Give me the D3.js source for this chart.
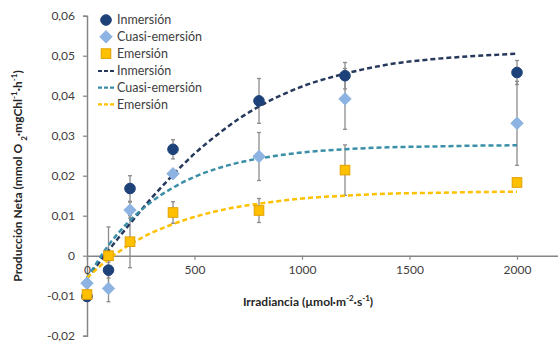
<!DOCTYPE html>
<html>
<head>
<meta charset="utf-8">
<script src="https://cdn.jsdelivr.net/npm/d3@7"></script>
<style>
  html, body { margin: 0; padding: 0; background: #fff; }
  svg { display: block; font-family: Lato, "Open Sans", sans-serif; }
</style>
</head>
<body>
<svg id="chart" width="558" height="345"></svg>
<script>
// Irradiance levels (µmol·m-2·s-1)
const irradiance = [0, 100, 200, 400, 800, 1200, 2000];

// Measured net production (mmol O2·mgChl-1·h-1) and standard errors
const inmersion      = [-0.0102, -0.0036, 0.0168, 0.0266, 0.0387, 0.0450, 0.0458];
const inmersionErr   = [0.0010, 0.0020, 0.0032, 0.0024, 0.0056, 0.0033, 0.0030];
const cuasi          = [-0.0069, -0.0082, 0.0114, 0.0205, 0.0248, 0.0392, 0.0331];
const cuasiErr       = [0.0010, 0.0033, 0.0020, 0.0010, 0.0060, 0.0076, 0.0105];
const emersion       = [-0.0097, 0.0000, 0.0035, 0.0108, 0.0113, 0.0214, 0.0183];
const emersionErr    = [0.0010, 0.0072, 0.0065, 0.0027, 0.0030, 0.0063, 0.0010];

// Fitted P-I curves, sampled along irradiance
const fitIrradiance  = [0, 100, 200, 300, 400, 500, 600, 700, 800, 1000, 1200, 1400, 1600, 1800, 2000];
const fitInmersion   = [-0.0057, 0.0013, 0.0080, 0.0144, 0.0202, 0.0255, 0.0300, 0.0340, 0.0373, 0.0423, 0.0455, 0.0478, 0.0491, 0.0499, 0.0505];
const fitCuasi       = [-0.0057, 0.0026, 0.0088, 0.0135, 0.0170, 0.0197, 0.0217, 0.0232, 0.0243, 0.0258, 0.0266, 0.0271, 0.0273, 0.0275, 0.0276];
const fitEmersion    = [-0.0055, -0.0009, 0.0028, 0.0057, 0.0079, 0.0097, 0.0111, 0.0122, 0.0130, 0.0143, 0.0150, 0.0155, 0.0157, 0.0159, 0.0160];

// Axis ticks
const xTicks = [0, 500, 1000, 1500, 2000];
const xTickLabels = ["0", "500", "1000", "1500", "2000"];
const yTicks = [-0.02, -0.01, 0, 0.01, 0.02, 0.03, 0.04, 0.05, 0.06];
const yTickLabels = ["-0,02", "-0,01", "0", "0,01", "0,02", "0,03", "0,04", "0,05", "0,06"];

const svg = d3.select("#chart");

const x = d3.scaleLinear().domain([0, 2200]).range([87, 560]);
const y = d3.scaleLinear().domain([-0.02, 0.06]).range([335.7, 15.7]);

const axisColor = "#868686";
const textColor = "#404040";

// Y axis (at x = 0)
const yAxis = svg.append("g")
  .attr("transform", `translate(${x(0)},0)`)
  .call(d3.axisLeft(y).tickValues(yTicks).tickSize(4).tickPadding(8)
        .tickFormat((d, i) => yTickLabels[i]));
yAxis.select(".domain").attr("stroke", axisColor).attr("stroke-width", 1.5);
yAxis.selectAll(".tick line").attr("stroke", axisColor).attr("stroke-width", 1.2);
yAxis.selectAll(".tick text").attr("fill", textColor).attr("font-size", 12)
  .attr("font-family", "Lato, sans-serif");

// X axis (at y = 0)
const xAxis = svg.append("g")
  .attr("transform", `translate(0,${y(0)})`)
  .call(d3.axisBottom(x).tickValues(xTicks).tickSize(4).tickSizeOuter(0).tickPadding(6)
        .tickFormat((d, i) => xTickLabels[i]));
xAxis.select(".domain").attr("stroke", axisColor).attr("stroke-width", 1.5);
xAxis.selectAll(".tick line").attr("stroke", axisColor).attr("stroke-width", 1.2);
xAxis.selectAll(".tick text").attr("fill", textColor).attr("font-size", 12)
  .attr("font-family", "Lato, sans-serif");

// Axis titles
const xt = svg.append("text")
  .attr("x", 308).attr("y", 306)
  .attr("text-anchor", "middle")
  .attr("font-size", 12).attr("font-weight", "bold").attr("fill", "#262626");
xt.append("tspan").text("Irradiancia (µmol·m");
xt.append("tspan").attr("baseline-shift", "super").attr("font-size", 8).text("-2");
xt.append("tspan").text("·s");
xt.append("tspan").attr("baseline-shift", "super").attr("font-size", 8).text("-1");
xt.append("tspan").text(")");

const yt = svg.append("text")
  .attr("transform", "translate(22,176) rotate(-90)")
  .attr("text-anchor", "middle")
  .attr("font-size", 12).attr("font-weight", "bold").attr("fill", "#262626");
yt.append("tspan").text("Producción Neta  (mmol O ");
yt.append("tspan").attr("baseline-shift", "sub").attr("font-size", 8).text("2");
yt.append("tspan").text("·mgChl");
yt.append("tspan").attr("baseline-shift", "super").attr("font-size", 8).text("-1");
yt.append("tspan").text("·h");
yt.append("tspan").attr("baseline-shift", "super").attr("font-size", 8).text("-1");
yt.append("tspan").text(")");

// Series styles
const series = [
  { name: "Inmersión", vals: inmersion, err: inmersionErr, fit: fitInmersion,
    fill: "#1d4179", stroke: "#1d4179", line: "#26395c", shape: "circle" },
  { name: "Cuasi-emersión", vals: cuasi, err: cuasiErr, fit: fitCuasi,
    fill: "#8db3e2", stroke: "#8db3e2", line: "#3b8ea8", shape: "diamond" },
  { name: "Emersión", vals: emersion, err: emersionErr, fit: fitEmersion,
    fill: "#ffc000", stroke: "#e0a000", line: "#ffc000", shape: "square" }
];

// Error bars
const errG = svg.append("g").attr("stroke", "#8c8c8c").attr("stroke-width", 1.3);
series.forEach(s => {
  irradiance.forEach((xi, i) => {
    const cx = x(xi), y1 = y(s.vals[i] + s.err[i]), y2 = y(s.vals[i] - s.err[i]);
    errG.append("line").attr("x1", cx).attr("x2", cx).attr("y1", y1).attr("y2", y2);
    errG.append("line").attr("x1", cx - 2).attr("x2", cx + 2).attr("y1", y1).attr("y2", y1);
    errG.append("line").attr("x1", cx - 2).attr("x2", cx + 2).attr("y1", y2).attr("y2", y2);
  });
});

// Fitted curves
const line = d3.line().x((d, i) => x(fitIrradiance[i])).y(d => y(d)).curve(d3.curveMonotoneX);
series.forEach(s => {
  svg.append("path").datum(s.fit)
    .attr("d", line)
    .attr("fill", "none")
    .attr("stroke", s.line)
    .attr("stroke-width", 2.5)
    .attr("stroke-dasharray", "5,3");
});

// Markers
function marker(g, shape, cx, cy, fill, stroke) {
  if (shape === "circle") {
    g.append("circle").attr("cx", cx).attr("cy", cy).attr("r", 5.3)
      .attr("fill", fill).attr("stroke", stroke);
  } else if (shape === "diamond") {
    const r = 6.2;
    g.append("path").attr("d", `M${cx},${cy - r}L${cx + r},${cy}L${cx},${cy + r}L${cx - r},${cy}Z`)
      .attr("fill", fill).attr("stroke", stroke);
  } else {
    const h = 4.8;
    g.append("rect").attr("x", cx - h).attr("y", cy - h).attr("width", 2 * h).attr("height", 2 * h)
      .attr("fill", fill).attr("stroke", stroke).attr("stroke-width", 1);
  }
}
const mk = svg.append("g");
series.forEach(s => {
  irradiance.forEach((xi, i) => marker(mk, s.shape, x(xi), y(s.vals[i]), s.fill, s.stroke));
});

// Legend
const lg = svg.append("g").attr("font-size", 12.5).attr("fill", textColor);
series.forEach((s, i) => {
  const ly = 20 + i * 16.8;
  marker(lg, s.shape, 106, ly, s.fill, s.stroke);
  lg.append("text").attr("x", 117).attr("y", ly).attr("dy", "0.35em").text(s.name);
});
series.forEach((s, i) => {
  const ly = 71 + i * 16.7;
  lg.append("line").attr("x1", 98).attr("x2", 116).attr("y1", ly).attr("y2", ly)
    .attr("stroke", s.line).attr("stroke-width", 2.2).attr("stroke-dasharray", "4,2");
  lg.append("text").attr("x", 117).attr("y", ly).attr("dy", "0.35em").text(s.name);
});
</script>
</body>
</html>
